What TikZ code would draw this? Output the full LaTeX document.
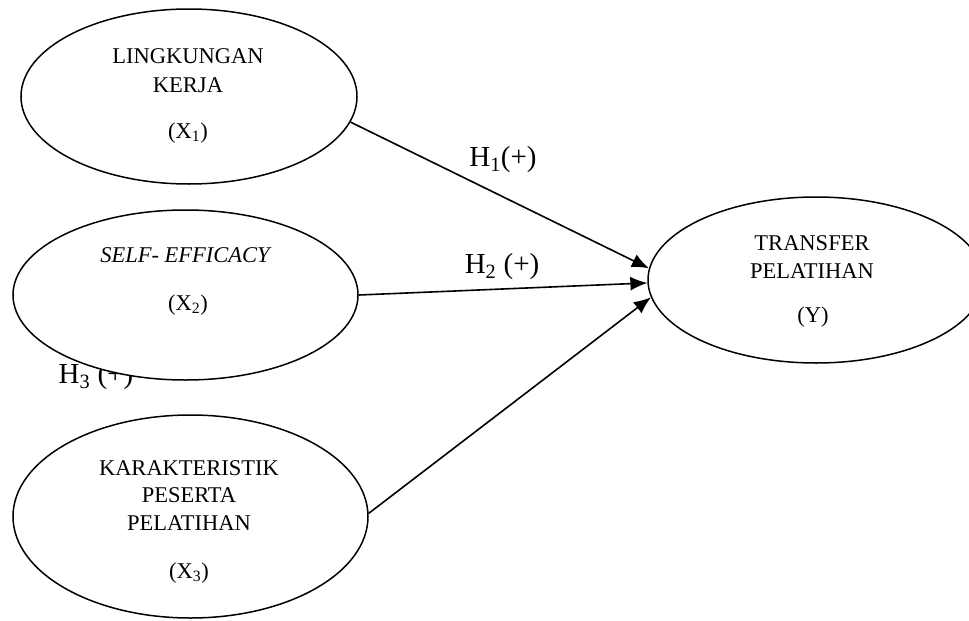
\documentclass[tikz,border=0pt]{standalone}
\usepackage{fontspec}
\setmainfont{Liberation Serif}
\usetikzlibrary{shapes.geometric,arrows.meta}
\begin{document}
\begin{tikzpicture}[x=1pt,y=-1pt,
  var/.style={ellipse, draw, fill=white, line width=1.5pt, inner sep=0pt},
  vtext/.style={font=\fontsize{22.5}{28}\selectfont, align=center, inner sep=0pt},
  hyp/.style={font=\fontsize{29}{34}\selectfont, inner sep=0pt},
  link/.style={line width=1.6pt, -{Latex[length=17pt,width=14pt]}}]
\useasboundingbox (0,0) rectangle (969,621);
\clip (0,0) rectangle (969,621);
% label partly hidden by X2 ellipse
\node[hyp] (h3) at (96,377) {H\textsubscript{3} (+)};
\node[var, minimum width=336pt, minimum height=175pt] (X1) at (189,96.5) {};
\node[var, minimum width=345pt, minimum height=170pt] (X2) at (185.5,295) {};
\node[var, minimum width=355pt, minimum height=203pt] (X3) at (190.5,516.5) {};
\node[var, minimum width=336pt, minimum height=166pt] (Y) at (816,280) {};
% texts
\node[vtext, anchor=base] (t1a) at (188,63) {LINGKUNGAN};
\node[vtext, anchor=base] (t1b) at (188,92) {KERJA};
\node[vtext] (t1c) at (188,133) {(X\textsubscript{1})};
\node[vtext, anchor=base] (t2a) at (185,262) {\itshape SELF- EFFICACY};
\node[vtext] (t2b) at (188,305) {(X\textsubscript{2})};
\node[vtext, anchor=base] (t3a) at (189,475) {KARAKTERISTIK};
\node[vtext, anchor=base] (t3b) at (189,502) {PESERTA};
\node[vtext, anchor=base] (t3c) at (189,530) {PELATIHAN};
\node[vtext] (t3d) at (189,573) {(X\textsubscript{3})};
\node[vtext, anchor=base] (tya) at (812,250) {TRANSFER};
\node[vtext, anchor=base] (tyb) at (812,278) {PELATIHAN};
\node[vtext] (tyc) at (813,317) {(Y)};
% hypothesis labels
\node[hyp] (h1) at (503,160) {H\textsubscript{1}(+)};
\node[hyp] (h2) at (502,267) {H\textsubscript{2} (+)};
% arrows
\draw[link] (X1.-9) -- (Y.176);
\draw[link] (X2.east) -- (Y.181);
\draw[link] (X3.1) -- (Y.186);
\end{tikzpicture}
\end{document}
